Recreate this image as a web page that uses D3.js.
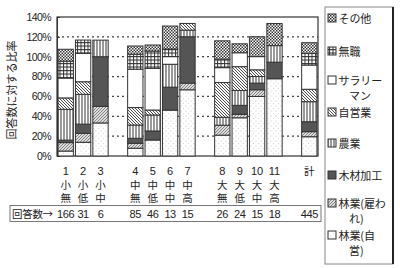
<!DOCTYPE html>
<html>
<head>
<meta charset="utf-8">
<script src="https://cdn.jsdelivr.net/npm/d3@7"></script>
<style>
  body { margin: 0; background: #fff; }
  text { fill: #222; }
  .num { font-family: "Liberation Sans Narrow", "Arial Narrow", "Liberation Sans", Arial, sans-serif; }
  .jp { font-family: "Noto Sans CJK JP", sans-serif; }
</style>
</head>
<body>
<div id="chart"></div>
<script>
// bars (slot index leaves gaps between school-size groups)
var bars = ["1", "2", "3", "4", "5", "6", "7", "8", "9", "10", "11", "計"];
var slotIndex = [0, 1, 2, 4, 5, 6, 7, 9, 10, 11, 12, 14];
var sizeLabel = ["小", "小", "小", "中", "中", "中", "中", "大", "大", "大", "大", ""];
var levelLabel = ["無", "低", "中", "無", "低", "中", "高", "無", "低", "中", "高", ""];
var counts = [166, 31, 6, 85, 46, 13, 15, 26, 24, 15, 18, 445];

// % of respondents, bottom to top
var ownForestry = [5, 13.8, 33.3, 7.8, 16.1, 46.2, 66.7, 21, 38.5, 60, 77.8, 19.4];
var hiredForestry = [8.5, 9, 16.7, 5, 0, 0, 6.7, 10, 3.5, 6.7, 0, 5.1];
var woodWork = [2.5, 9.3, 50, 5, 9.1, 23.1, 46.7, 0, 9, 6.7, 16.7, 10];
var farming = [31, 30, 16.7, 13.4, 16.1, 23.1, 6.7, 8, 15, 6.7, 16.7, 20.2];
var selfEmployed = [11.5, 12.7, 0, 17.6, 5, 0, 6.7, 35, 24, 6.7, 0, 12.5];
var salaried = [20, 28.6, 0, 38.6, 42, 7.7, 0, 15, 14, 13.3, 0, 24.4];
var unemployed = [17, 13.4, 0, 15.1, 17.4, 7.7, 0, 8.5, 0, 0, 0, 11.8];
var others = [12, 0, 0, 8.3, 6.1, 23.1, 0, 18.5, 9, 20, 22.2, 10.7];

var yTicks = [0, 20, 40, 60, 80, 100, 120, 140];

var keys = ["own", "hired", "wood", "farm", "self", "salary", "none", "other"];
var seriesVals = [ownForestry, hiredForestry, woodWork, farming, selfEmployed, salaried, unemployed, others];
// legend (top to bottom)
var legendItems = [
  {key: "other", lines: ["その他"]},
  {key: "none", lines: ["無職"]},
  {key: "salary", lines: ["サラリー", "マン"]},
  {key: "self", lines: ["自営業"]},
  {key: "farm", lines: ["農業"]},
  {key: "wood", lines: ["木材加工"]},
  {key: "hired", lines: ["林業(雇わ", "れ)"]},
  {key: "own", lines: ["林業(自", "営)"]}
];

var data = bars.map(function(b, i) {
  var row = {bar: b, slot: slotIndex[i]};
  keys.forEach(function(k, j) { row[k] = seriesVals[j][i]; });
  return row;
});

var W = 400, H = 268;
var svg = d3.select("#chart").append("svg").attr("width", W).attr("height", H);
var defs = svg.append("defs");

// fill patterns
function pat(id, w, h) {
  return defs.append("pattern").attr("id", id).attr("patternUnits", "userSpaceOnUse")
    .attr("width", w).attr("height", h);
}
var p;
p = pat("p-other", 3, 3);
p.append("rect").attr("width", 3).attr("height", 3).attr("fill", "#fff");
p.append("rect").attr("width", 1.5).attr("height", 1.5).attr("fill", "#333");
p.append("rect").attr("x", 1.5).attr("y", 1.5).attr("width", 1.5).attr("height", 1.5).attr("fill", "#333");
p = pat("p-none", 3.5, 3.5);
p.append("rect").attr("width", 3.5).attr("height", 3.5).attr("fill", "#fff");
p.append("path").attr("d", "M0,0.5H3.5M0.5,0V3.5").attr("stroke", "#333").attr("stroke-width", 1);
p = pat("p-salary", 4, 4);
p.append("rect").attr("width", 4).attr("height", 4).attr("fill", "#fff");
p = pat("p-self", 3, 3);
p.append("rect").attr("width", 3).attr("height", 3).attr("fill", "#fff");
p.append("path").attr("d", "M-1,-1L4,4M-1,2L1,4M2,-1L4,1").attr("stroke", "#333").attr("stroke-width", 0.9);
p = pat("p-farm", 3, 3);
p.append("rect").attr("width", 3).attr("height", 3).attr("fill", "#fff");
p.append("path").attr("d", "M1,0V3").attr("stroke", "#333").attr("stroke-width", 1);
p = pat("p-wood", 3, 3);
p.append("rect").attr("width", 3).attr("height", 3).attr("fill", "#555");
p = pat("p-hired", 3, 3);
p.append("rect").attr("width", 3).attr("height", 3).attr("fill", "#ddd");
p.append("path").attr("d", "M-1,4L4,-1M-1,1L1,-1M2,4L4,2").attr("stroke", "#777").attr("stroke-width", 0.9);
p = pat("p-own", 5, 5);
p.append("rect").attr("width", 5).attr("height", 5).attr("fill", "#fff");
p.append("circle").attr("cx", 1).attr("cy", 1).attr("r", 0.5).attr("fill", "#bbb");
p.append("circle").attr("cx", 3.5).attr("cy", 3.5).attr("r", 0.5).attr("fill", "#ccc");

var plot = {left: 57, right: 318, top: 17, bottom: 156};

var x = d3.scaleBand().domain(d3.range(15)).range([plot.left, plot.right]).paddingInner(0.12).paddingOuter(0.06);
var y = d3.scaleLinear().domain([0, 140]).range([plot.bottom, plot.top]);

// dotted gridlines
svg.append("g").selectAll("line")
  .data(yTicks.filter(function(t) { return t > 0 && t < 140; }))
  .enter().append("line")
    .attr("x1", plot.left).attr("x2", plot.right)
    .attr("y1", function(d) { return y(d); }).attr("y2", function(d) { return y(d); })
    .attr("stroke", "#444").attr("stroke-width", 1.2).attr("stroke-dasharray", "2,3");

// frame
svg.append("rect").attr("x", plot.left).attr("y", plot.top)
  .attr("width", plot.right - plot.left).attr("height", plot.bottom - plot.top)
  .attr("fill", "none").attr("stroke", "#333").attr("stroke-width", 1.2);

var yAxis = svg.append("g").attr("class", "num")
  .attr("transform", "translate(" + plot.left + ",0)")
  .call(d3.axisLeft(y).tickValues(yTicks).tickSize(-3).tickPadding(6)
    .tickFormat(function(d) { return d + "%"; }));
yAxis.select(".domain").attr("stroke", "#333");
yAxis.selectAll(".tick line").attr("stroke", "#333");
yAxis.selectAll("text").style("font-size", "10.5px").attr("fill", "#222").style("letter-spacing", "-0.6px");

var stack = d3.stack().keys(keys);
var layers = stack(data);

svg.append("g").selectAll("g")
  .data(layers)
  .enter().append("g")
    .attr("fill", function(d) { return "url(#p-" + d.key + ")"; })
  .selectAll("rect")
  .data(function(d) { return d.filter(function(s) { return s[1] - s[0] > 0; }); })
  .enter().append("rect")
    .attr("x", function(d) { return x(d.data.slot); })
    .attr("y", function(d) { return y(d[1]); })
    .attr("width", x.bandwidth())
    .attr("height", function(d) { return y(d[0]) - y(d[1]); })
    .attr("stroke", "#333").attr("stroke-width", 1);

// bar labels below the axis
var lab = svg.append("g").attr("text-anchor", "middle");
data.forEach(function(d, i) {
  var cx = x(d.slot) + x.bandwidth() / 2;
  if (d.bar === "計") {
    lab.append("text").attr("class", "jp").attr("x", cx).attr("y", 175)
      .style("font-size", "10.5px").text(d.bar);
    return;
  }
  lab.append("text").attr("class", "num").attr("x", cx).attr("y", 175)
    .style("font-size", "11px").text(d.bar);
  lab.append("text").attr("class", "jp").attr("x", cx).attr("y", 188.5)
    .style("font-size", "10.5px").text(sizeLabel[i]);
  lab.append("text").attr("class", "jp").attr("x", cx).attr("y", 202)
    .style("font-size", "10.5px").text(levelLabel[i]);
});

// respondent count row
svg.append("rect").attr("x", 10).attr("y", 205.5).attr("width", 311).attr("height", 16)
  .attr("fill", "none").attr("stroke", "#777").attr("stroke-width", 1);
svg.append("text").attr("class", "jp").attr("x", 12).attr("y", 217.5)
  .style("font-size", "10.5px").style("letter-spacing", "-0.3px").text("回答数→");
svg.append("g").attr("text-anchor", "middle").selectAll("text")
  .data(data).enter().append("text")
    .attr("class", "num")
    .attr("x", function(d) { return x(d.slot) + x.bandwidth() / 2; })
    .attr("y", 217.5)
    .style("font-size", "11px").style("letter-spacing", "-0.4px")
    .text(function(d, i) { return counts[i]; });

// y axis title
svg.append("text").attr("class", "jp")
  .attr("transform", "translate(16,90) rotate(-90)")
  .attr("text-anchor", "middle")
  .style("font-size", "11px")
  .text("回答数に対する比率");

// legend
var lg = svg.append("g");
lg.append("rect").attr("x", 325).attr("y", 7).attr("width", 68).attr("height", 257)
  .attr("fill", "#fff").attr("stroke", "#888").attr("stroke-width", 1);
lg.append("line").attr("x1", 393).attr("x2", 393).attr("y1", 7).attr("y2", 264)
  .attr("stroke", "#222").attr("stroke-width", 2);
var legendY = [18, 51, 80, 112, 143, 175, 203, 235];
legendItems.forEach(function(it, i) {
  var ly = legendY[i];
  lg.append("rect").attr("x", 328).attr("y", ly - 4).attr("width", 8).attr("height", 8)
    .attr("fill", "url(#p-" + it.key + ")").attr("stroke", "#333").attr("stroke-width", 1);
  it.lines.forEach(function(t, j) {
    lg.append("text").attr("class", "jp")
      .attr("x", j === 0 ? 338.5 : 349).attr("y", ly + 4.5 + j * 15.5)
      .style("font-size", "11px").style("letter-spacing", "-0.1px").text(t);
  });
});
</script>
</body>
</html>
